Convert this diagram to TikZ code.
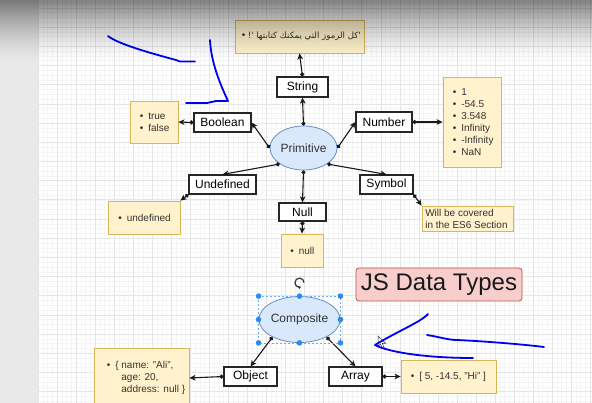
\documentclass[tikz,border=0pt]{standalone}
\usepackage{fontspec}
\setmainfont{Liberation Sans}
\newfontfamily\arabicfont[Script=Arabic]{DejaVu Sans}
\TeXXeTstate=1
\usepackage{graphicx}
\usetikzlibrary{shapes.geometric,arrows.meta}
\definecolor{yfill}{HTML}{FFF2CC}
\definecolor{ybord}{HTML}{D6B656}
\definecolor{bfill}{HTML}{DAE8FC}
\definecolor{bbord}{HTML}{6C8EBF}
\definecolor{rfill}{HTML}{F8CECC}
\definecolor{rbord}{HTML}{B85450}
\definecolor{inkblue}{HTML}{0000F0}
\definecolor{selblue}{HTML}{2A8CF0}
\definecolor{panelgray}{HTML}{E9E9E9}
\definecolor{gminor}{HTML}{F5F5F5}
\definecolor{gmajor}{HTML}{E5E5E5}
\definecolor{txtgray}{HTML}{333333}
\newcommand{\myb}{\makebox[8.5pt][l]{•}}
\begin{document}
\begin{tikzpicture}[x=1pt,y=-1pt,
  typebox/.style={draw=black!85, line width=1.1pt, fill=white, inner sep=0pt,
    font=\fontsize{12}{14}\selectfont},
  valbox/.style={draw=ybord, fill=yfill, line width=0.8pt, inner sep=0pt},
  vtext/.style={inner sep=0pt, align=left, text=txtgray,
    font=\fontsize{10}{12}\selectfont},
  blob/.style={ellipse, draw=bbord, fill=bfill, line width=0.8pt, inner sep=0pt,
    text=txtgray, font=\fontsize{12}{14}\selectfont},
  link/.style={draw=black!90, line width=1.1pt,
    {Circle[length=4pt]}-{Stealth[length=6pt,width=5.5pt,inset=1.5pt]}},
  ink/.style={draw=inkblue, line width=1.8pt, line cap=round, line join=round},
  gridminor/.style={draw=gminor, line width=0.5pt},
  gridmajor/.style={draw=gmajor, line width=0.6pt},
  handle/.style={fill=selblue},
]
\useasboundingbox (0,0) rectangle (592,403);
\clip (0,0) rectangle (592,403);
\fill[white] (0,0) rectangle (592,403);
% grid
\foreach \k in {8,...,124} \draw[gridminor] ({4.76*\k},0) -- ({4.76*\k},403);
\foreach \k in {0,...,84} \draw[gridminor] (37.5,{3.1+4.7975*\k}) -- (592,{3.1+4.7975*\k});
\foreach \k in {2,...,31} \draw[gridmajor] ({19.04*\k},0) -- ({19.04*\k},403);
\foreach \m in {0,...,20} \draw[gridmajor] (37.5,{7.9+19.19*\m}) -- (592,{7.9+19.19*\m});
\fill[panelgray] (0,0) rectangle (37.5,403);

% value boxes
\node[valbox, minimum width=129pt, minimum height=33pt] (arab) at (299.5,36.5) {};
\node[valbox, minimum width=48pt, minimum height=42pt] (tf) at (154,122) {};
\node[valbox, minimum width=58pt, minimum height=90pt] (nums) at (472,122) {};
\node[valbox, minimum width=72pt, minimum height=33pt] (undefb) at (144,217.5) {};
\node[valbox, minimum width=91pt, minimum height=25pt] (will) at (467.5,218.5) {};
\node[valbox, minimum width=42pt, minimum height=33pt] (nullb) at (302,250.5) {};
\node[valbox, minimum width=95pt, minimum height=60pt] (objb) at (141.5,378) {};
\node[valbox, minimum width=95pt, minimum height=33pt] (arrb) at (448.5,376.5) {};

% value texts
\node[inner sep=0pt, anchor=west, text=txtgray, font=\fontsize{10}{12}\selectfont] (arabt) at ([xshift=7pt]arab.west)
  {\makebox[6pt][l]{•}{\arabicfont\fontsize{8.6}{10}\selectfont\beginR'كل الرموز التي يمكنك كتابتها '!\endR}};
\node[vtext, anchor=west] (tft) at ([xshift=10pt]tf.west) {\myb true\\\myb false};
\node[vtext, anchor=west] (numst) at ([xshift=10pt]nums.west)
  {\myb 1\\\myb -54.5\\\myb 3.548\\\myb Infinity\\\myb -Infinity\\\myb NaN};
\node[vtext, anchor=west] (undeft) at ([xshift=10.5pt]undefb.west) {\myb undefined};
\node[vtext, anchor=west] (willt) at ([xshift=3.5pt]will.west) {Will be covered\\in the ES6 Section};
\node[vtext, anchor=west] (nullt) at ([xshift=9.5pt]nullb.west) {\myb null};
\node[vtext, anchor=west] (objt) at ([xshift=13pt]objb.west)
  {\myb\{ name: "Ali",\\\hspace*{8.5pt}\phantom{\{ }age: 20,\\\hspace*{8.5pt}\phantom{\{ }address: null \}};
\node[vtext, anchor=west] (arrt) at ([xshift=10pt]arrb.west) {\myb [ 5, -14.5, "Hi" ]};

% type boxes
\node[blob, minimum width=67pt, minimum height=44pt] (prim) at (303.5,148) {Primitive};
\node[typebox, minimum width=51pt, minimum height=20pt] (str) at (302.5,87) {String};
\node[typebox, minimum width=57pt, minimum height=19pt] (bool) at (222.5,122.5) {Boolean};
\node[typebox, minimum width=56pt, minimum height=20pt] (num) at (384,122) {Number};
\node[typebox, minimum width=67pt, minimum height=19pt] (undf) at (222.5,184.5) {Undefined};
\node[typebox, minimum width=53pt, minimum height=19pt] (sym) at (386.5,184.5) {Symbol};
\node[typebox, minimum width=47pt, minimum height=18pt] (nul) at (302.5,212) {Null};
\node[blob, minimum width=69pt, minimum height=46pt] (comp) at (299.5,319.5) {Composite};
\node[typebox, minimum width=53pt, minimum height=19pt] (obj) at (250.5,376.5) {Object};
\node[typebox, minimum width=53pt, minimum height=19pt] (arr) at (355.5,376.5) {Array};

% title
\node[draw=rbord, fill=rfill, line width=0.8pt, rounded corners=3pt, inner sep=0pt,
  minimum width=166pt, minimum height=33pt, font=\fontsize{24}{28}\selectfont, text=black!90]
  (ttl) at (439,284.5) {JS Data Types};

% connectors
\draw[link] (str.north) -- (arab.south);
\draw[link] (prim.north) -- (str.south);
\draw[link] (prim.west) -- (bool.east);
\draw[link] (prim.east) -- (num.west);
\draw[link] (prim.-146) -- (undf.north);
\draw[link] (prim.-34) -- (sym.north);
\draw[link] (prim.south) -- (nul.north);
\draw[link] (bool.west) -- (tf.east);
\draw[link] (num.east) -- (nums.west);
\draw[link] (undf.south west) -- (undefb.north east);
\draw[link] (sym.south east) -- (will.north west);
\draw[link] (nul.south) -- (nullb.north);
\draw[link] (comp.-147) -- (obj.north);
\draw[link] (comp.-33) -- (arr.north);
\draw[link] (obj.west) -- (objb.east);
\draw[link] (arr.east) -- (arrb.west);

% selection overlay on Composite
\coordinate (sNW) at (comp.west |- comp.north);
\coordinate (sSE) at (comp.east |- comp.south);
\draw[selblue!70, line width=0.6pt, dash pattern=on 2pt off 2pt] (sNW) rectangle (sSE);
\foreach \p in {comp.west, comp.east, comp.north, comp.south}
  \fill[handle] (\p) circle (2.8pt);
\fill[handle] (sNW) circle (2.8pt);
\fill[handle] (sSE) circle (2.8pt);
\fill[handle] (comp.west |- comp.south) circle (2.8pt);
\fill[handle] (comp.east |- comp.north) circle (2.8pt);
\coordinate (rot) at ([yshift=13.5pt]comp.north);
\draw[black!80, line width=1.2pt, -{Stealth[length=3pt,width=3.5pt]}]
  ([xshift=4.5pt]rot) arc[start angle=0, end angle=290, radius=4.5pt];

% mouse cursor
\draw[fill=white, draw=black!80, line width=0.5pt] (378,336) -- (378,346.5) -- (380.5,344) -- (382.5,348.5) -- (384.2,347.7) -- (382.3,343.5) -- (385.8,343.5) -- cycle;

% ink strokes
\draw[ink] (108,36) .. controls (118,44) and (150,53) .. (176,60) -- (180,61.5) -- (195,61.5);
\draw[ink] (210,40) .. controls (211,62) and (220,84) .. (228,101) -- (216,101) -- (207,103) -- (186,103);
\draw[ink] (428,314) .. controls (421,322) and (396,332) .. (375,345) .. controls (386,351) and (420,358) .. (473,358);
\draw[ink] (427,335) .. controls (440,337) and (448,340) .. (457,340) .. controls (480,341) and (520,344) .. (544,347);

% top shadow
\foreach \i in {0,...,30} {
  \pgfmathsetmacro\op{0.48*(1-\i/31)*sqrt(1-\i/31)}
  \fill[black, opacity=\op] (0,{2*\i}) rectangle (592,{2*\i+2});
}
\end{tikzpicture}
\end{document}
